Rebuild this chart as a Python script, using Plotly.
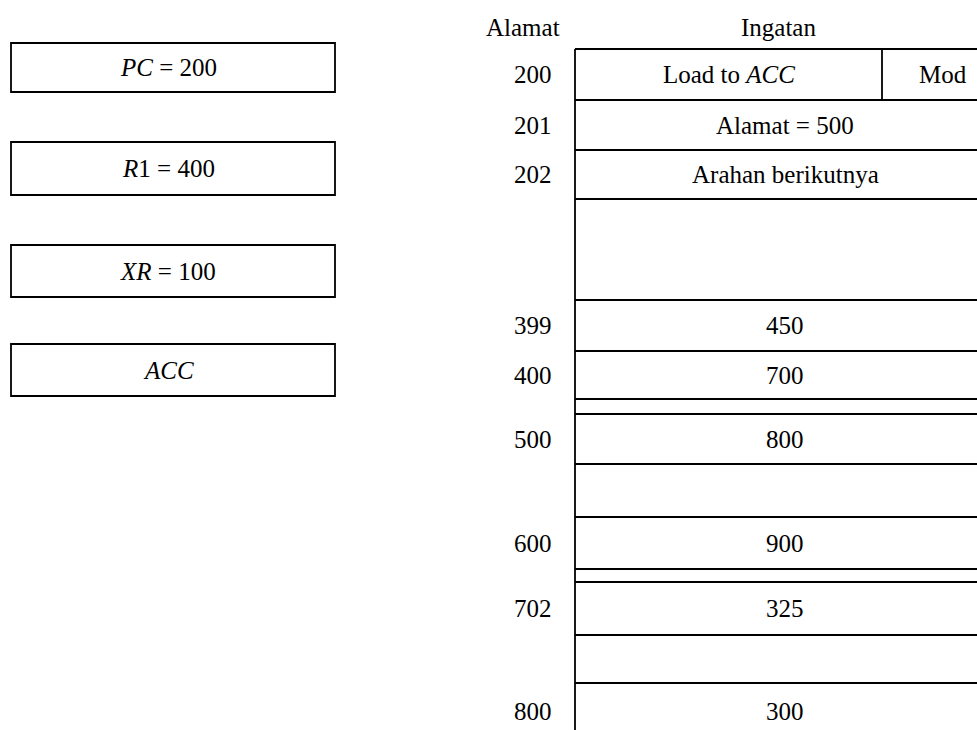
import plotly.graph_objects as go

# ---- data ----
register_labels = ["<i>PC</i> = 200", "<i>R</i>1 = 400", "<i>XR</i> = 100", "<i>ACC</i>"]
memory_addresses = ["200", "201", "202", "", "399", "400", "500", "", "600", "702", "", "800"]
memory_contents = ["Load to <i>ACC</i>", "Alamat = 500", "Arahan berikutnya", "",
                   "450", "700", "800", "", "900", "325", "", "300"]
mode_label = "Mod"
header_address = "Alamat"
header_memory = "Ingatan"

# ---- layout (pixel geometry) ----
W, H = 977, 730
FONT = "Liberation Serif"
FS = 25
LW = 1.8

reg_x0, reg_x1 = 11, 335
reg_text_x = 168
reg_boxes = [(43, 92), (142, 195), (245, 297), (344, 396)]

mem_x0, mem_x1 = 575, 1000
mod_x = 882
# row top/bottom for each memory slot
mem_rows = [(49, 100), (100, 150), (150, 199), (199, 300), (300, 351), (351, 399),
            (414, 464), (464, 517), (517, 569), (582, 635), (635, 683), (683, 740)]
addr_x = 554
content_x = 785

fig = go.Figure()
fig.add_trace(go.Scatter(x=[0, W], y=[0, H], mode="markers",
                         marker=dict(opacity=0), hoverinfo="skip", showlegend=False))

shapes = []
annotations = []

def txt(x, y, s, xanchor="center"):
    annotations.append(dict(x=x, y=y, text=s, showarrow=False, xanchor=xanchor,
                            yanchor="middle", font=dict(family=FONT, size=FS, color="black")))

# register boxes
for (y0, y1), lab in zip(reg_boxes, register_labels):
    shapes.append(dict(type="rect", x0=reg_x0, x1=reg_x1, y0=y0, y1=y1,
                       line=dict(color="black", width=LW)))
    txt(reg_text_x, (y0 + y1) / 2, lab)

# headers
txt(523, 27, header_address)
txt(778, 27, header_memory)

# memory column: left vertical line
shapes.append(dict(type="line", x0=mem_x0, x1=mem_x0, y0=mem_rows[0][0], y1=H + 10,
                   line=dict(color="black", width=LW)))
# horizontal lines
seen = set()
for (y0, y1) in mem_rows:
    for y in (y0, y1):
        if y < H and y not in seen:
            seen.add(y)
            shapes.append(dict(type="line", x0=mem_x0, x1=mem_x1, y0=y, y1=y,
                               line=dict(color="black", width=LW)))
# mode divider in first row
shapes.append(dict(type="line", x0=mod_x, x1=mod_x, y0=mem_rows[0][0], y1=mem_rows[0][1],
                   line=dict(color="black", width=LW)))

for i, ((y0, y1), addr, cont) in enumerate(zip(mem_rows, memory_addresses, memory_contents)):
    yc = (y0 + y1) / 2 if y1 < H else 711
    if addr:
        txt(addr_x, yc, addr, xanchor="right")
    if cont:
        if i == 0:
            txt((mem_x0 + mod_x) / 2, yc, cont)
        else:
            txt(content_x, yc, cont)
txt(943, (mem_rows[0][0] + mem_rows[0][1]) / 2, mode_label)

fig.update_layout(
    width=W, height=H, margin=dict(l=0, r=0, t=0, b=0),
    paper_bgcolor="white", plot_bgcolor="white",
    xaxis=dict(range=[0, W], visible=False, fixedrange=True),
    yaxis=dict(range=[H, 0], visible=False, fixedrange=True),
    shapes=shapes, annotations=annotations, showlegend=False,
)
fig.write_html("out.html", config={"displayModeBar": False},
               post_script="document.body.style.margin='0';document.body.style.overflow='hidden';")
